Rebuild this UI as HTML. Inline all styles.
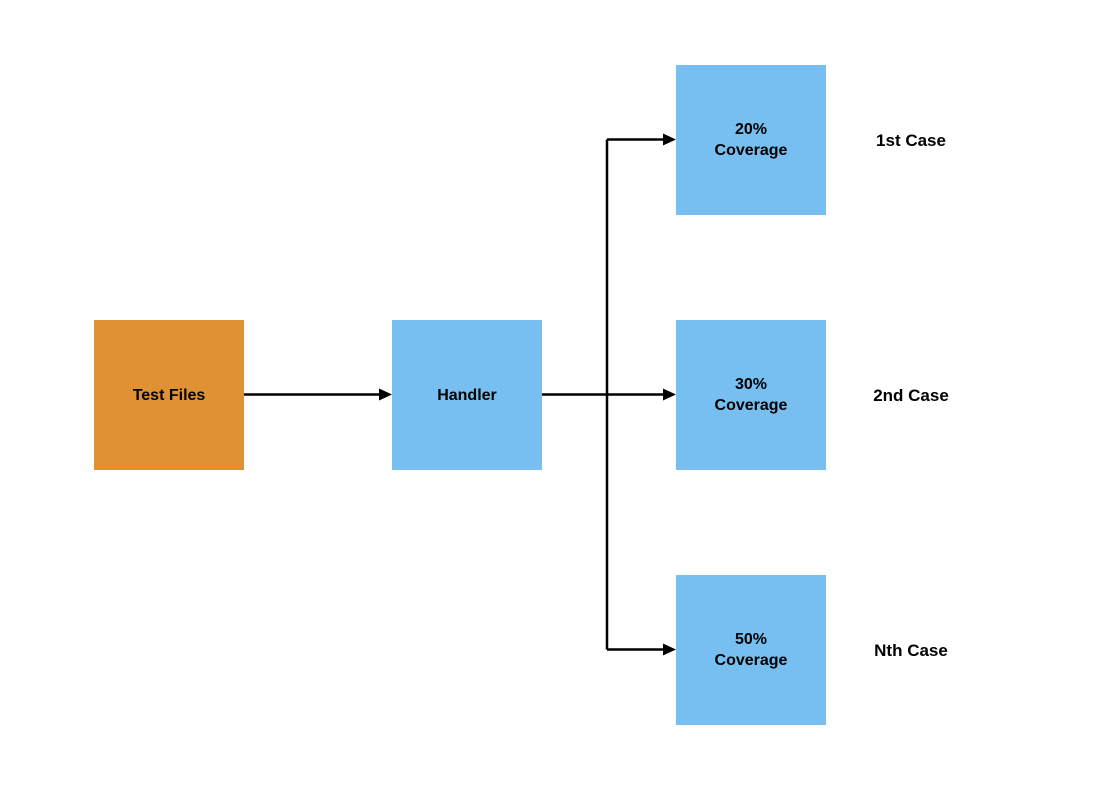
<!DOCTYPE html>
<html><head><style>
body{margin:0;background:#fff;width:1096px;height:790px;position:relative;overflow:hidden;font-family:"Liberation Sans",sans-serif;}
.b{position:absolute;width:150px;height:150px;display:flex;align-items:center;justify-content:center;text-align:center;font-weight:bold;font-size:16px;line-height:21px;color:#000;}
.l{position:absolute;font-weight:bold;font-size:17px;width:120px;text-align:center;}
</style></head><body>
<div class="b" style="left:94px;top:320px;background:#E09134">Test Files</div>
<div class="b" style="left:392px;top:320px;background:#77BFF1">Handler</div>
<div class="b" style="left:676px;top:65px;background:#77BFF1">20%<br>Coverage</div>
<div class="b" style="left:676px;top:320px;background:#77BFF1">30%<br>Coverage</div>
<div class="b" style="left:676px;top:575px;background:#77BFF1">50%<br>Coverage</div>
<div class="l" style="left:851px;top:131px">1st Case</div>
<div class="l" style="left:851px;top:386px">2nd Case</div>
<div class="l" style="left:851px;top:641px">Nth Case</div>
<svg width="1096" height="790" style="position:absolute;left:0;top:0">
<g stroke="#000" stroke-width="2.5" fill="none">
<path d="M244 394.5H380"/>
<path d="M542 394.5H664"/>
<path d="M607 139.5V649.5"/>
<path d="M607 139.5H664"/>
<path d="M607 649.5H664"/>
</g>
<g fill="#000">
<path d="M392 394.5L379 388.5V400.5Z"/>
<path d="M676 394.5L663 388.5V400.5Z"/>
<path d="M676 139.5L663 133.5V145.5Z"/>
<path d="M676 649.5L663 643.5V655.5Z"/>
</g>
</svg>
</body></html>
